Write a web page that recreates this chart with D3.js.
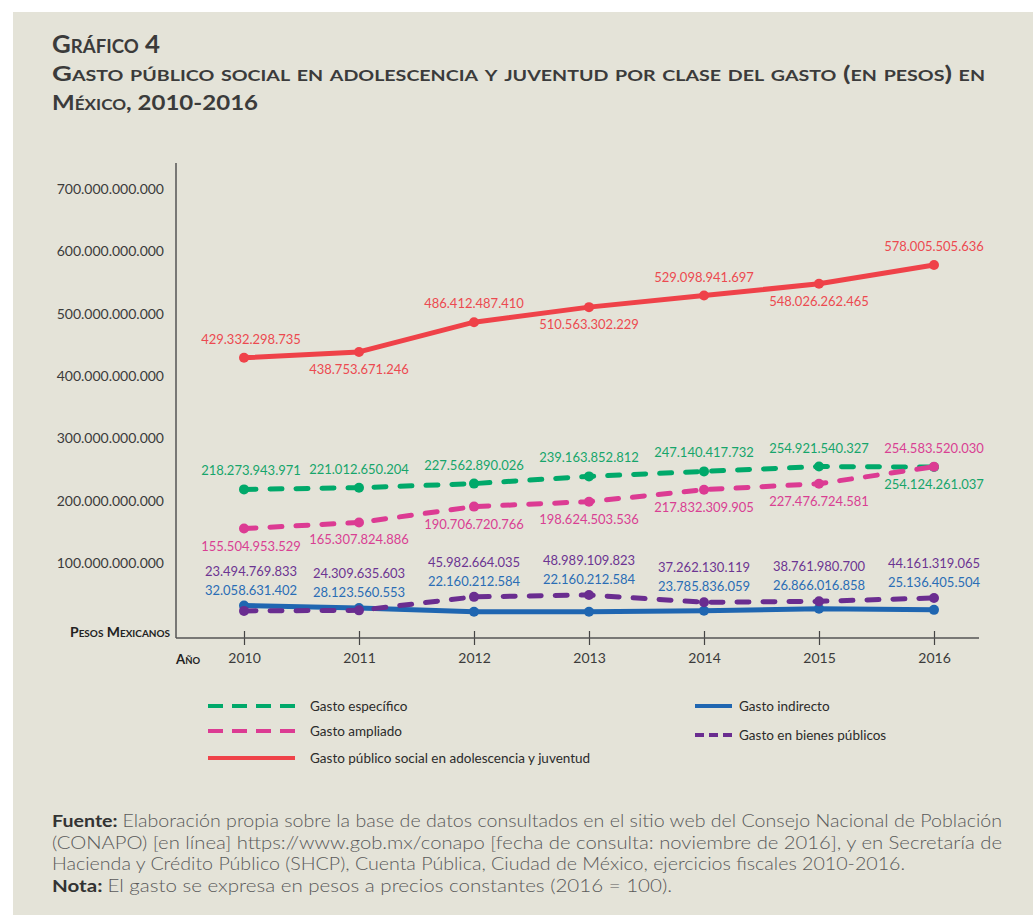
<!DOCTYPE html>
<html>
<head>
<meta charset="utf-8">
<script src="https://cdn.jsdelivr.net/npm/d3@7"></script>
<style>
  html, body { margin: 0; padding: 0; background: #ffffff; }
  svg { display: block; }
</style>
</head>
<body>
<svg id="chart" width="1033" height="915"></svg>
<script>
// Años del periodo
const years = [2010, 2011, 2012, 2013, 2014, 2015, 2016];

// Gasto en pesos a precios constantes (2016 = 100)
const gastoEspecifico = [218273943971, 221012650204, 227562890026, 239163852812, 247140417732, 254921540327, 254124261037];
const gastoAmpliado   = [155504953529, 165307824886, 190706720766, 198624503536, 217832309905, 227476724581, 254583520030];
const gastoTotal      = [429332298735, 438753671246, 486412487410, 510563302229, 529098941697, 548026262465, 578005505636];
const gastoIndirecto  = [32058631402, 28123560553, 22160212584, 22160212584, 23785836059, 26866016858, 25136405504];
const gastoBienes     = [23494769833, 24309635603, 45982664035, 48989109823, 37262130119, 38761980700, 44161319065];

// Marcas del eje vertical
const yTicks = [100e9, 200e9, 300e9, 400e9, 500e9, 600e9, 700e9];

const es = d3.formatLocale({ decimal: ",", thousands: ".", grouping: [3], currency: ["$", ""] });
const fmt = es.format(",d");

const svg = d3.select("#chart");
const BG = "#e4e3d8";
const INK = "#3b3b3b";
const NUM_FONT = "Lato, 'Open Sans', sans-serif";

// Fondo del recuadro
svg.append("rect").attr("x", 13).attr("y", 12).attr("width", 1020).attr("height", 903).attr("fill", BG);

// ---------- Título ----------
const title = svg.append("g").attr("font-family", "Lato, sans-serif").attr("font-weight", 700)
  .attr("fill", INK).style("font-variant", "small-caps");
const titleLines = [
  { text: "Gráfico 4", y: 53, size: 25, width: 108 },
  { text: "Gasto público social en adolescencia y juventud por clase del gasto (en pesos) en", y: 81, size: 21, width: 933 },
  { text: "México, 2010-2016", y: 110, size: 21, width: 206 }
];
titleLines.forEach(l => {
  title.append("text").attr("x", 52).attr("y", l.y).attr("font-size", l.size)
    .attr("textLength", l.width).attr("lengthAdjust", "spacingAndGlyphs").text(l.text);
});

// ---------- Escalas ----------
const x = d3.scaleLinear().domain([2010, 2016]).range([244, 934]);
const y = d3.scaleLinear().domain([-20e9, 700e9]).range([638, 189]);

const axisLeftX = 176, axisBottomY = 638, axisRightX = 979, axisTopY = 163;

// Eje vertical
svg.append("line").attr("x1", axisLeftX).attr("x2", axisLeftX).attr("y1", axisTopY).attr("y2", axisBottomY)
  .attr("stroke", "#555").attr("stroke-width", 1.5);
svg.append("g").selectAll("text").data(yTicks).join("text")
  .attr("x", 164).attr("y", d => y(d)).attr("dy", "0.35em")
  .attr("text-anchor", "end").attr("font-family", NUM_FONT).attr("font-size", 14)
  .attr("fill", INK).text(d => fmt(d));

// Eje horizontal
const xAxis = d3.axisBottom(x).tickValues(years).tickFormat(d3.format("d")).tickSize(8).tickSizeOuter(0);
const gx = svg.append("g").attr("transform", `translate(0,${axisBottomY - 7})`).call(xAxis);
gx.select(".domain").remove();
gx.selectAll(".tick line").attr("stroke", "#444").attr("stroke-width", 1.2).attr("y2", 14);
gx.selectAll(".tick text").attr("font-family", NUM_FONT).attr("font-size", 14).attr("fill", INK).attr("y", 22);
svg.append("line").attr("x1", axisLeftX).attr("x2", axisRightX).attr("y1", axisBottomY).attr("y2", axisBottomY)
  .attr("stroke", "#555").attr("stroke-width", 1.5);

// Rótulos de ejes
svg.append("text").attr("x", 70).attr("y", 637)
  .attr("font-family", "Lato, sans-serif").attr("font-weight", 700).attr("font-size", 14)
  .attr("textLength", 100).attr("lengthAdjust", "spacingAndGlyphs")
  .style("font-variant", "small-caps").attr("fill", "#222").text("Pesos Mexicanos");
svg.append("text").attr("x", 176).attr("y", 664)
  .attr("font-family", "Lato, sans-serif").attr("font-weight", 700).attr("font-size", 14)
  .attr("textLength", 24).attr("lengthAdjust", "spacingAndGlyphs")
  .style("font-variant", "small-caps").attr("fill", "#222").text("Año");

// ---------- Series ----------
const series = [
  { name: "Gasto público social en adolescencia y juventud", values: gastoTotal, color: "#ef4249", text: "#ec4a50",
    dash: null, side: ["above", "below", "above", "below", "above", "below", "above"] },
  { name: "Gasto específico", values: gastoEspecifico, color: "#00a96a", text: "#16a56b",
    dash: "12 14", side: ["above", "above", "above", "above", "above", "above", "below"] },
  { name: "Gasto ampliado", values: gastoAmpliado, color: "#dc3b93", text: "#d93f93",
    dash: "12 14", side: ["below", "below", "below", "below", "below", "below", "above"] },
  { name: "Gasto indirecto", values: gastoIndirecto, color: "#1f66b1", text: "#2a6db5",
    dash: null, side: null },
  { name: "Gasto en bienes públicos", values: gastoBienes, color: "#6a2d90", text: "#6c3592",
    dash: "12 14", side: null }
];

const line = d3.line().x((d, i) => x(years[i])).y(d => y(d));
const plot = svg.append("g");

series.forEach(s => {
  plot.append("path").datum(s.values)
    .attr("d", line).attr("fill", "none").attr("stroke", s.color)
    .attr("stroke-width", 5).attr("stroke-linecap", "round").attr("stroke-linejoin", "round")
    .attr("stroke-dasharray", s.dash);
  plot.append("g").selectAll("circle").data(s.values).join("circle")
    .attr("cx", (d, i) => x(years[i])).attr("cy", d => y(d)).attr("r", 5).attr("fill", s.color);
});

// Etiquetas de valor
const labels = svg.append("g").attr("font-family", NUM_FONT).attr("font-size", 13).attr("text-anchor", "middle");
const shiftX = i => (i === 0 ? 7 : 0);

series.slice(0, 3).forEach(s => {
  labels.append("g").attr("fill", s.text).selectAll("text").data(s.values).join("text")
    .attr("x", (d, i) => x(years[i]) + shiftX(i))
    .attr("y", (d, i) => y(d) + (s.side[i] === "above" ? -14 : 22))
    .text(d => fmt(d));
});

// Las dos series menores comparten la zona inferior: etiquetas apiladas sobre la marca más alta
const indirecto = series[3], bienes = series[4];
years.forEach((yr, i) => {
  const top = Math.min(y(indirecto.values[i]), y(bienes.values[i]));
  labels.append("text").attr("fill", bienes.text)
    .attr("x", x(yr) + shiftX(i)).attr("y", top - 30).text(fmt(bienes.values[i]));
  labels.append("text").attr("fill", indirecto.text)
    .attr("x", x(yr) + shiftX(i)).attr("y", top - 11).text(fmt(indirecto.values[i]));
});

// ---------- Leyenda ----------
const legendItems = [
  { s: series[1], x: 208, y: 706, len: 87, gap: 15, dash: "15 9" },
  { s: series[2], x: 208, y: 731, len: 87, gap: 15, dash: "15 9" },
  { s: series[0], x: 208, y: 758, len: 87, gap: 15, dash: null },
  { s: series[3], x: 695, y: 706, len: 37, gap: 7, dash: null },
  { s: series[4], x: 695, y: 735, len: 37, gap: 7, dash: "9 5" }
];
const legend = svg.append("g");
legendItems.forEach(it => {
  legend.append("line").attr("x1", it.x).attr("x2", it.x + it.len).attr("y1", it.y).attr("y2", it.y)
    .attr("stroke", it.s.color).attr("stroke-width", 4).attr("stroke-dasharray", it.dash);
  legend.append("text").attr("x", it.x + it.len + it.gap).attr("y", it.y).attr("dy", "0.35em")
    .attr("font-family", "Lato, sans-serif").attr("font-size", 13.5).attr("fill", "#2b2b2b")
    .text(it.s.name);
});

// ---------- Fuente y nota ----------
const notes = svg.append("g").attr("font-family", "Lato, sans-serif").attr("font-size", 17).attr("fill", "#5a5a5a");
const noteLines = [
  { y: 827, width: 950, parts: [["Fuente: ", true], ["Elaboración propia sobre la base de datos consultados en el sitio web del Consejo Nacional de Población", false]] },
  { y: 849, width: 950, parts: [["(CONAPO) [en línea] https://www.gob.mx/conapo [fecha de consulta: noviembre de 2016], y en Secretaría de", false]] },
  { y: 870, width: 853, parts: [["Hacienda y Crédito Público (SHCP), Cuenta Pública, Ciudad de México, ejercicios fiscales 2010-2016.", false]] },
  { y: 892, width: 620, parts: [["Nota: ", true], ["El gasto se expresa en pesos a precios constantes (2016 = 100).", false]] }
];
noteLines.forEach(l => {
  const t = notes.append("text").attr("x", 52).attr("y", l.y)
    .attr("textLength", l.width).attr("lengthAdjust", "spacingAndGlyphs");
  l.parts.forEach(([txt, bold]) => {
    t.append("tspan").text(txt)
      .attr("font-weight", bold ? 700 : 300)
      .attr("fill", bold ? "#333" : "#5a5a5a");
  });
});
</script>
</body>
</html>
